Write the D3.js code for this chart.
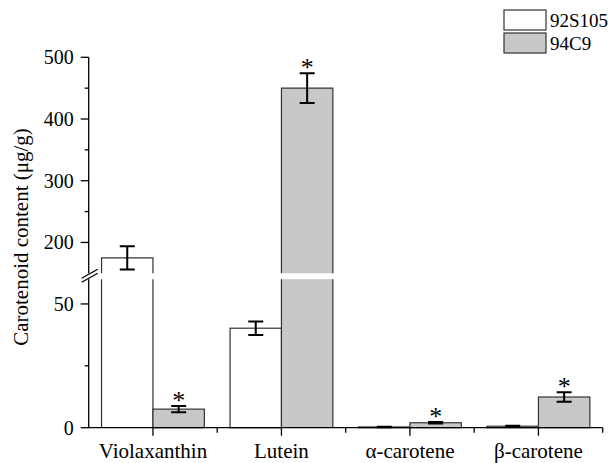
<!DOCTYPE html>
<html lang="en">
<head>
    <meta charset="UTF-8">
    <title>Carotenoid content</title>
    <script src="https://d3js.org/d3.v7.min.js"></script>
    <style>
        body { margin: 0; background: #fff; }
        svg { display: block; }
        text { font-family: "Liberation Serif", "Times New Roman", serif; fill: #000; }
    </style>
</head>
<body>
    <div id="chart"></div>
    <script>
        // data
        const categories = ['Violaxanthin', 'Lutein', '\u03b1-carotene', '\u03b2-carotene'];
        const seriesNames = ['92S105', '94C9'];
        const values92S105 = [175, 40.2, 0.3, 0.6];
        const errors92S105 = [19, 2.7, 0.1, 0.2];
        const values94C9 = [7.5, 450, 2.0, 12.4];
        const errors94C9 = [1.3, 24, 0.3, 1.9];
        const stars94C9 = [true, true, true, true];
        const lowerTicks = [0, 25, 50];
        const upperTicks = [200, 250, 300, 350, 400, 450, 500];
        const labelledTicks = [0, 50, 200, 300, 400, 500];

        const width = 608, height = 463;
        const svg = d3.select('#chart').append('svg')
            .attr('width', width)
            .attr('height', height);

        const x0 = 88.7, x1 = 602.7;
        // broken y axis: two linear pieces
        const yLow = d3.scaleLinear().domain([0, 60]).range([427.7, 279.2]);
        const yUp = d3.scaleLinear().domain([150, 500]).range([273.3, 57.3]);
        const breakLow = 60, breakHigh = 150;

        const xBand = d3.scaleBand().domain(categories).range([x0, x1]);
        const xSub = d3.scaleBand().domain(seriesNames)
            .range([0.1 * xBand.bandwidth(), 0.9 * xBand.bandwidth()]);

        const fills = { '92S105': '#ffffff', '94C9': '#c8c8c8' };
        const stroke = '#333';

        const series = [
            { name: '92S105', values: values92S105, errors: errors92S105, stars: [false, false, false, false] },
            { name: '94C9', values: values94C9, errors: errors94C9, stars: stars94C9 }
        ];

        function yPos(v) {
            return v <= breakLow ? yLow(v) : yUp(Math.max(v, breakHigh));
        }

        // bars
        series.forEach(s => {
            s.values.forEach((v, i) => {
                const bx = xBand(categories[i]) + xSub(s.name);
                const bw = xSub.bandwidth();
                const g = svg.append('g');
                if (v <= breakLow) {
                    g.append('rect')
                        .attr('x', bx).attr('y', yLow(v))
                        .attr('width', bw).attr('height', yLow(0) - yLow(v))
                        .attr('fill', fills[s.name])
                        .attr('stroke', stroke).attr('stroke-width', 1.2);
                } else {
                    const lowTop = yLow(breakLow);
                    g.append('rect')
                        .attr('x', bx).attr('y', lowTop)
                        .attr('width', bw).attr('height', yLow(0) - lowTop)
                        .attr('fill', fills[s.name]);
                    g.append('path')
                        .attr('d', `M${bx},${yLow(0)}L${bx},${lowTop}M${bx + bw},${lowTop}L${bx + bw},${yLow(0)}`)
                        .attr('fill', 'none').attr('stroke', stroke).attr('stroke-width', 1.2);
                    const upBot = yUp(breakHigh);
                    g.append('rect')
                        .attr('x', bx).attr('y', yUp(v))
                        .attr('width', bw).attr('height', upBot - yUp(v))
                        .attr('fill', fills[s.name]);
                    g.append('path')
                        .attr('d', `M${bx},${upBot}L${bx},${yUp(v)}L${bx + bw},${yUp(v)}L${bx + bw},${upBot}`)
                        .attr('fill', 'none').attr('stroke', stroke).attr('stroke-width', 1.2);
                }

                // error bar
                const cx = bx + bw / 2;
                const e = s.errors[i];
                const yt = yPos(v + e), yb = yPos(Math.max(v - e, 0));
                const cap = 7.5;
                g.append('path')
                    .attr('d', `M${cx},${yt}L${cx},${yb}M${cx - cap},${yt}L${cx + cap},${yt}M${cx - cap},${yb}L${cx + cap},${yb}`)
                    .attr('fill', 'none').attr('stroke', '#000').attr('stroke-width', 2);

                if (s.stars[i]) {
                    g.append('text')
                        .attr('x', cx).attr('y', yt + 3)
                        .attr('text-anchor', 'middle')
                        .style('font-size', '26px')
                        .text('*');
                }
            });
        });

        // y axis (two pieces with a gap at the break)
        const axisG = svg.append('g').attr('stroke', '#000').attr('stroke-width', 1.3);
        axisG.append('line').attr('x1', x0).attr('x2', x0).attr('y1', yLow(0)).attr('y2', yLow(breakLow));
        axisG.append('line').attr('x1', x0).attr('x2', x0).attr('y1', yUp(breakHigh)).attr('y2', yUp(500));

        // break marks
        [yLow(breakLow) - 1, yUp(breakHigh) + 1].forEach(yy => {
            axisG.append('line')
                .attr('x1', x0 - 7).attr('y1', yy + 4)
                .attr('x2', x0 + 9).attr('y2', yy - 5);
        });

        const allTicks = lowerTicks.map(t => ({ v: t, y: yLow(t) }))
            .concat(upperTicks.map(t => ({ v: t, y: yUp(t) })));

        allTicks.forEach(t => {
            const major = labelledTicks.includes(t.v);
            axisG.append('line')
                .attr('x1', x0 - (major ? 8 : 4)).attr('x2', x0)
                .attr('y1', t.y).attr('y2', t.y);
            if (major) {
                svg.append('text')
                    .attr('x', x0 - 15).attr('y', t.y)
                    .attr('dy', '0.35em')
                    .attr('text-anchor', 'end')
                    .style('font-size', '20px')
                    .text(t.v);
            }
        });

        // x axis
        axisG.append('line').attr('x1', x0).attr('x2', x1).attr('y1', yLow(0)).attr('y2', yLow(0));
        categories.forEach((c, i) => {
            const cx = xBand(c) + xBand.bandwidth() / 2;
            axisG.append('line').attr('x1', cx).attr('x2', cx)
                .attr('y1', yLow(0)).attr('y2', yLow(0) + 8);
            const edge = xBand(c) + xBand.bandwidth();
            axisG.append('line').attr('x1', edge).attr('x2', edge)
                .attr('y1', yLow(0)).attr('y2', yLow(0) + 5);
            svg.append('text')
                .attr('x', cx).attr('y', 458)
                .attr('text-anchor', 'middle')
                .style('font-size', '21px')
                .text(c);
        });

        // y axis title
        svg.append('text')
            .attr('transform', 'translate(28,237) rotate(-90)')
            .attr('text-anchor', 'middle')
            .style('font-size', '21px')
            .text('Carotenoid content (\u03bcg/g)');

        // legend
        const legend = svg.append('g').attr('transform', 'translate(504,10)');
        seriesNames.forEach((n, i) => {
            legend.append('rect')
                .attr('x', 0).attr('y', i * 23)
                .attr('width', 42).attr('height', 20)
                .attr('fill', fills[n])
                .attr('stroke', stroke).attr('stroke-width', 1.2);
            legend.append('text')
                .attr('x', 46).attr('y', i * 23 + 10)
                .attr('dy', '0.35em')
                .style('font-size', '19px')
                .text(n);
        });
    </script>
</body>
</html>
